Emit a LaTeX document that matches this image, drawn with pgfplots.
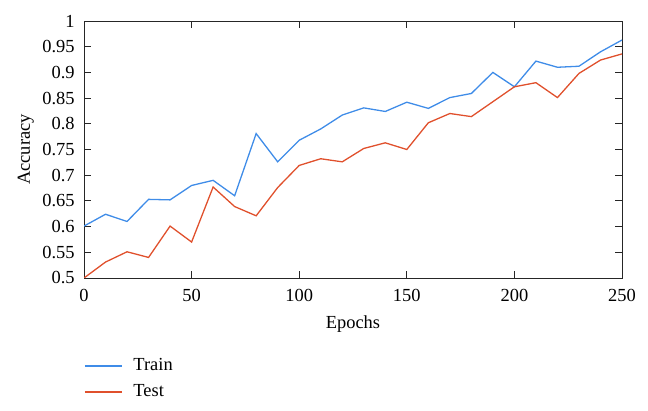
\documentclass[border=0pt]{standalone}
\usepackage{fontspec}
\setmainfont{Liberation Serif}
\usepackage{pgfplots}
\pgfplotsset{compat=1.18}
\definecolor{trainblue}{HTML}{3F8CE8}
\definecolor{testred}{HTML}{E0502C}

\begin{document}
\fontsize{18.5}{22}\selectfont
\begin{tikzpicture}
\path[use as bounding box] (0,0) rectangle (648bp,411bp);
\begin{axis}[
  at={(84bp,133bp)},anchor=south west,
  scale only axis,width=538bp,height=257bp,
  xmin=0,xmax=250,ymin=0.5,ymax=1,
  xtick={0,50,...,250},
  ytick={0.5,0.55,...,1.0},
  yticklabels={0.5,0.55,0.6,0.65,0.7,0.75,0.8,0.85,0.9,0.95,1},
  /pgf/number format/assume math mode=true,
  tick align=inside,tick pos=both,
  major tick length=7bp,
  axis line style={black!85,line width=0.9pt},
  tick style={black!85,line width=0.9pt},
  tick label style={font=\fontsize{18.5}{22}\selectfont},
  xticklabel style={yshift=-5bp},
  yticklabel style={xshift=-3bp},
  label style={font=\fontsize{18.5}{22}\selectfont},
  xlabel={Epochs},ylabel={Accuracy},
  xlabel style={yshift=-1bp},
  ylabel style={yshift=-4bp},
  legend style={at={(0,-0.305)},anchor=north west,draw=none,fill=none,
    inner xsep=0pt,inner ysep=0pt,row sep=7bp,column sep=9bp,
    font=\fontsize{18.5}{22}\selectfont},
  legend cell align=left,
  legend image code/.code={\draw[#1] (0bp,0bp) -- (37bp,0bp);},
  every axis plot/.append style={line width=1.3pt}]
\addplot[trainblue] coordinates {
  (0,0.601)(10,0.624)(20,0.610)(30,0.653)(40,0.652)(50,0.680)
  (60,0.690)(70,0.660)(80,0.781)(90,0.726)(100,0.768)(110,0.790)
  (120,0.817)(130,0.831)(140,0.824)(150,0.842)(160,0.830)(170,0.851)
  (180,0.859)(190,0.900)(200,0.872)(210,0.922)(220,0.910)(230,0.912)
  (240,0.940)(250,0.963)};
\addlegendentry{Train}
\addplot[testred] coordinates {
  (0,0.500)(10,0.531)(20,0.551)(30,0.540)(40,0.601)(50,0.570)
  (60,0.677)(70,0.639)(80,0.621)(90,0.676)(100,0.719)(110,0.732)
  (120,0.726)(130,0.752)(140,0.763)(150,0.750)(160,0.802)(170,0.820)
  (180,0.814)(190,0.843)(200,0.872)(210,0.880)(220,0.851)(230,0.898)
  (240,0.924)(250,0.936)};
\addlegendentry{Test}
\end{axis}
\end{tikzpicture}
\end{document}
